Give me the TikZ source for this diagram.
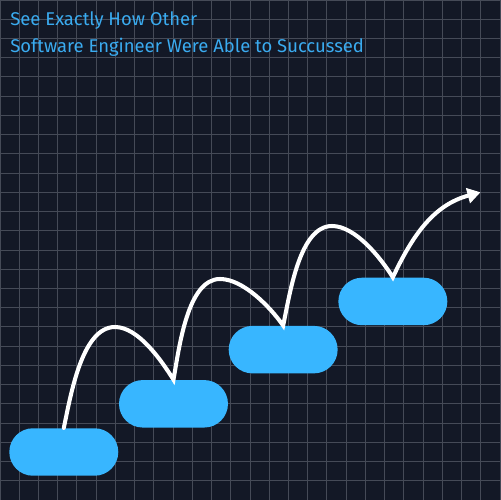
\documentclass[tikz,border=0pt]{standalone}
\usepackage{fontspec}
\setmainfont{Fira Sans}
\usetikzlibrary{positioning, arrows.meta}

\definecolor{bgnavy}{HTML}{131826}
\definecolor{gridgrey}{HTML}{454A57}
\definecolor{pillblue}{HTML}{38B6FF}
\definecolor{titleblue}{HTML}{3AABF0}

\tikzset{
	stair/.style = {fill = pillblue, rounded corners = 0.475cm, minimum width = 2.18cm, minimum height = 0.95cm, inner sep = 0pt},
	title/.style = {anchor = base west, text = titleblue, inner sep = 0pt, font = \fontsize{10.5}{12}\selectfont},
	jump/.style = {white, line width = 2.3pt, line cap = round, looseness = 0.75, -{Triangle[length = 7.4pt, width = 8.6pt]}}
}

\begin{document}
\begin{tikzpicture}[x = 0.02cm, y = 0.02cm]
	%	canvas setup
	
	\def\xmin{0}
	\def\xmax{500}
	
	\def\ymin{0}
	\def\ymax{500}
	
	\def\cell{19.2308}
	
	\fill[bgnavy] (\xmin, \ymin) rectangle (\xmax, \ymax);
	\useasboundingbox (\xmin, \ymin) rectangle (\xmax, \ymax);
	
	%	grid
	\draw[step = \cell, gridgrey, line width = 0.55pt] (\xmin, \ymin) grid (\xmax, \ymax);
	
	%	title
	\node[title] (line1) at (10, 474.3) {See Exactly How Other};
	\node[title] (line2) at (10, 447.7) {Software Engineer Were Able to Succussed};
	
	%	stairs
	\node[stair] (stair1) at (63.8, 48) {};
	\node[stair, above right = 0pt and 0pt of stair1] (stair2) {};
	\node[stair, above right = 3.4pt and 0pt of stair2] (stair3) {};
	\node[stair, above right = 0pt and 0pt of stair3] (stair4) {};
	
	%	jumps
	\coordinate (top1) at (115, 173);
	\coordinate (top2) at (220, 221);
	\coordinate (top3) at (332, 274);
	\coordinate (goal) at (480.5, 307.7);
	\draw[jump] (stair1.north) to[out = 78, in = 180] (top1) to[out = 0, in = 122] (stair2.north)
		to[out = 80, in = 180] (top2) to[out = 0, in = 125] (stair3.north)
		to[out = 78, in = 180] (top3) to[out = 0, in = 122] (stair4.north)
		to[out = 65, in = 195, looseness = 1] (goal);
\end{tikzpicture}
\end{document}
